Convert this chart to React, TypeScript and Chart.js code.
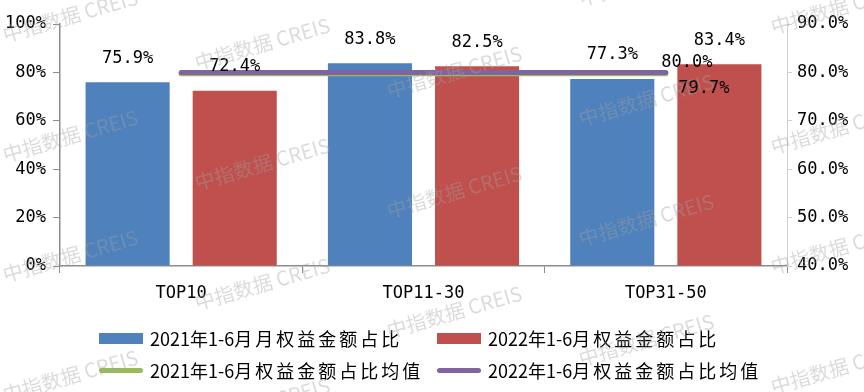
import React, { useEffect, useRef } from "react";
import { Chart, registerables } from "chart.js";

Chart.register(...registerables);

const categories = ["TOP10", "TOP11-30", "TOP31-50"];
const share2021 = [75.9, 83.8, 77.3];
const share2022 = [72.4, 82.5, 83.4];
const avg2021 = [79.7, 79.7, 79.7];
const avg2022 = [80.0, 80.0, 80.0];
const seriesNames = [
  "2021年1-6月月权益金额占比",
  "2022年1-6月权益金额占比",
  "2021年1-6月权益金额占比均值",
  "2022年1-6月权益金额占比均值",
];
const colors = ["#4F81BD", "#C0504D", "#9BBB59", "#8064A2"];
const watermarkText = "中指数据 CREIS";

const MONO = "'DejaVu Sans Mono', monospace";

const labelPlugin = {
  id: "valueLabels",
  afterDatasetsDraw(chart: any) {
    const ctx = chart.ctx;
    ctx.save();
    ctx.font = `17px ${MONO}`;
    ctx.fillStyle = "#000";
    ctx.textAlign = "center";
    ctx.textBaseline = "middle";
    chart.data.datasets.forEach((ds: any, di: number) => {
      const meta = chart.getDatasetMeta(di);
      if (ds.type === "bar") {
        meta.data.forEach((el: any, i: number) => {
          ctx.fillText(ds.data[i].toFixed(1) + "%", el.x, el.y - 24);
        });
      } else {
        const last = meta.data.length - 1;
        const el = meta.data[last];
        const off = ds.labelOffset;
        ctx.fillText(ds.data[last].toFixed(1) + "%", el.x + off[0], el.y + off[1]);
      }
    });
    ctx.restore();
  },
};

function SpacedText({ text }: { text: string }) {
  const parts = text.match(/[\u4e00-\u9fff]+|[^\u4e00-\u9fff]+/g) || [];
  return (
    <>
      {parts.map((p, i) =>
        /[\u4e00-\u9fff]/.test(p) && p.length > 1 ? (
          <span key={i} style={{ letterSpacing: "3px" }}>{p}</span>
        ) : (
          <span key={i}>{p}</span>
        )
      )}
    </>
  );
}

function Watermarks() {
  const marks: { x: number; y: number }[] = [];
  for (let i = 0; i < 5; i++) {
    const x = 70 + 192 * i;
    const y0 = (15 + 28 * i) % 120;
    for (let k = -1; k < 4; k++) marks.push({ x, y: y0 + 120 * k });
  }
  return (
    <div style={{ position: "absolute", left: 0, top: 0, width: 864, height: 392, overflow: "hidden", pointerEvents: "none" }}>
      {marks.map((m, i) => (
        <div
          key={i}
          style={{
            position: "absolute",
            left: m.x,
            top: m.y,
            transform: "translate(-50%, -50%) rotate(-16deg)",
            whiteSpace: "nowrap",
            fontFamily: "'Noto Sans CJK SC', sans-serif",
            fontSize: 20,
            color: "rgba(160,160,160,0.38)",
          }}
        >
          {watermarkText}
        </div>
      ))}
    </div>
  );
}

export default function App() {
  const ref = useRef<HTMLCanvasElement | null>(null);

  useEffect(() => {
    document.body.style.margin = "0";
    const canvas = ref.current!;
    const chart = new Chart(canvas, {
      data: {
        labels: categories,
        datasets: [
          {
            type: "line" as const,
            label: seriesNames[3],
            data: avg2022,
            yAxisID: "y1",
            borderColor: colors[3],
            backgroundColor: colors[3],
            borderWidth: 5,
            borderCapStyle: "round",
            pointRadius: 0,
            order: 0,
            labelOffset: [21, -10],
          } as any,
          {
            type: "line" as const,
            label: seriesNames[2],
            data: avg2021,
            yAxisID: "y1",
            borderColor: colors[2],
            backgroundColor: colors[2],
            borderWidth: 5,
            borderCapStyle: "round",
            pointRadius: 0,
            order: 1,
            labelOffset: [38, 15],
          } as any,
          {
            type: "bar" as const,
            label: seriesNames[0],
            data: share2021,
            yAxisID: "y",
            backgroundColor: colors[0],
            categoryPercentage: 0.884,
            barPercentage: 0.785,
            order: 2,
          },
          {
            type: "bar" as const,
            label: seriesNames[1],
            data: share2022,
            yAxisID: "y",
            backgroundColor: colors[1],
            categoryPercentage: 0.884,
            barPercentage: 0.785,
            order: 3,
          },
        ],
      },
      options: {
        animation: false,
        responsive: false,
        devicePixelRatio: 1,
        layout: { padding: { top: 24, left: 0, right: 0, bottom: 0 } },
        plugins: { legend: { display: false }, tooltip: { enabled: false } },
        scales: {
          x: {
            type: "category",
            offset: true,
            grid: {
              offset: true,
              drawOnChartArea: false,
              drawTicks: true,
              tickLength: 7,
              color: "#8c8c8c",
            },
            border: { display: true, color: "#8c8c8c", width: 1.5 },
            ticks: {
              color: "#000",
              font: { family: MONO, size: 17 },
              padding: 10,
              maxRotation: 0,
            },
            afterFit: (s: any) => {
              s.height = 126;
            },
          },
          y: {
            position: "left",
            min: 0,
            max: 100,
            ticks: {
              stepSize: 20,
              color: "#000",
              font: { family: MONO, size: 17 },
              padding: 7,
              callback: (v: any) => v + "%",
            },
            grid: {
              drawOnChartArea: false,
              drawTicks: true,
              tickLength: 7,
              color: "#8c8c8c",
            },
            border: { display: true, color: "#8c8c8c", width: 1.5 },
            afterFit: (s: any) => {
              s.width = 60;
            },
          },
          y1: {
            position: "right",
            min: 40,
            max: 90,
            ticks: {
              stepSize: 10,
              color: "#000",
              font: { family: MONO, size: 17 },
              padding: 5,
              callback: (v: any) => Number(v).toFixed(1) + "%",
            },
            grid: {
              drawOnChartArea: false,
              drawTicks: true,
              tickLength: 5,
              color: "#d0d0d0",
            },
            border: { display: true, color: "#d0d0d0", width: 1 },
            afterFit: (s: any) => {
              s.width = 77;
            },
          },
        },
      },
      plugins: [labelPlugin],
    } as any);
    return () => chart.destroy();
  }, []);

  const legendItems = [
    { name: seriesNames[0], color: colors[0], kind: "bar", x: 99, y: 338 },
    { name: seriesNames[1], color: colors[1], kind: "bar", x: 437, y: 338 },
    { name: seriesNames[2], color: colors[2], kind: "line", x: 99, y: 370 },
    { name: seriesNames[3], color: colors[3], kind: "line", x: 437, y: 370 },
  ];

  return (
    <div style={{ position: "fixed", left: 0, top: 0, width: 864, height: 392, background: "#fff", overflow: "hidden" }}>
      <canvas ref={ref} width={864} height={392} style={{ position: "absolute", left: 0, top: 0 }} />
      {legendItems.map((it, i) => (
        <React.Fragment key={i}>
          <div
            style={{
              position: "absolute",
              left: it.x,
              top: it.kind === "bar" ? it.y - 5.5 : it.y - 2.5,
              width: 44,
              height: it.kind === "bar" ? 11 : 5,
              borderRadius: it.kind === "bar" ? 0 : 3,
              background: it.color,
            }}
          />
          <div
            style={{
              position: "absolute",
              left: it.x + 51,
              top: it.y - 14,
              height: 28,
              lineHeight: "28px",
              fontFamily: "'Noto Sans CJK SC', sans-serif",
              fontSize: 18,
              color: "#000",
              whiteSpace: "nowrap",
            }}
          >
            <SpacedText text={it.name} />
          </div>
        </React.Fragment>
      ))}
      <Watermarks />
    </div>
  );
}
